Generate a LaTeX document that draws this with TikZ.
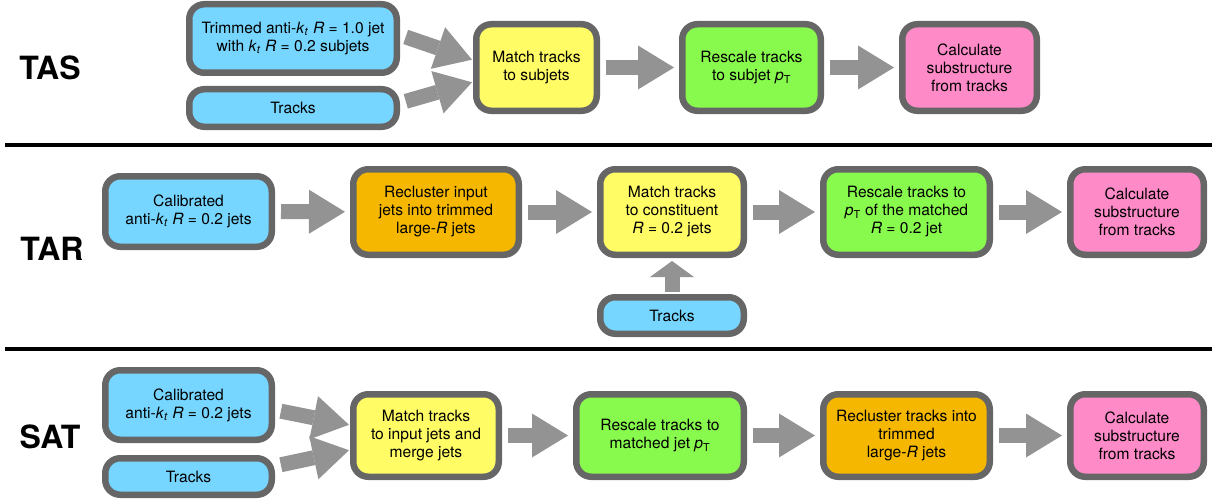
\documentclass[tikz,border=0pt]{standalone}
\usepackage{fontspec}
\setmainfont{TeX Gyre Heros}
\usetikzlibrary{arrows.meta}

\definecolor{skyblue}{HTML}{76D6FF}
\definecolor{lemon}{HTML}{FFFC66}
\definecolor{lime}{HTML}{88FA4E}
\definecolor{candy}{HTML}{FF8AC8}
\definecolor{amber}{HTML}{F5B700}
\definecolor{edgegray}{HTML}{666666}
\definecolor{arrowgray}{HTML}{939393}

\newcommand{\kt}{\textit{k}\textsubscript{\textit{t}}}
\newcommand{\Rjet}{\textit{R}}
\newcommand{\pT}{\textit{p}\textsubscript{T}}

\tikzset{
  stage/.style={draw=edgegray, line width=6.5pt, rounded corners=15pt, align=center, inner sep=0pt,
    font=\fontsize{15.6}{18}\selectfont},
  boxsize/.style 2 args={minimum width=#1pt, minimum height=#2pt},
  rowlabel/.style={font=\fontsize{32}{36}\selectfont\bfseries},
  flow/.style={draw=arrowgray, line width=15pt, -{Triangle[length=36pt,width=44pt,line width=0pt]},
    shorten <=6pt, shorten >=5pt},
  flowup/.style={draw=arrowgray, line width=15pt, -{Triangle[length=16pt,width=44pt,line width=0pt]},
    shorten <=2pt, shorten >=3pt},
  rule/.style={line width=3.5pt},
}

\begin{document}
\begin{tikzpicture}[x=1pt,y=-1pt]
\useasboundingbox (0,0) rectangle (1216,503);

% TAS
\node[rowlabel] (tas) at (50,68) {TAS};
\node[stage, fill=skyblue, boxsize={207.5}{68.5}] (tasjet) at (293,38.5) {Trimmed anti-\kt{} \Rjet{} = 1.0 jet\\with \kt{} \Rjet{} = 0.2 subjets};
\node[stage, fill=skyblue, boxsize={207.5}{37.5}] (tastrk) at (293,108) {Tracks};
\node[stage, fill=lemon, boxsize={120.5}{86.5}] (tasmatch) at (536.5,67.5) {Match tracks\\to subjets};
\node[stage, fill=lime, boxsize={138.5}{86.5}] (tasrescale) at (751.5,67.5) {Rescale tracks\\to subjet \pT};
\node[stage, fill=candy, boxsize={134.5}{86.5}] (tascalc) at (969.5,67.5) {Calculate\\substructure\\from tracks};

\draw[flow, shorten >=1pt] ([yshift=3.5pt]tasjet.east) -- ([yshift=7.5pt]tasmatch.west);
\draw[flow, shorten >=1pt] ([yshift=5pt]tastrk.east) -- ([yshift=-14.5pt]tasmatch.west);
\draw[flow] (tasmatch) -- (tasrescale);
\draw[flow] (tasrescale) -- (tascalc);

\draw[rule] (5,145) -- (1212,145);

% TAR
\node[rowlabel] (tar) at (52,249) {TAR};
\node[stage, fill=skyblue, boxsize={166.5}{70.5}] (tarjet) at (188.5,211.5) {Calibrated\\anti-\kt{} \Rjet{} = 0.2 jets};
\node[stage, fill=amber, boxsize={165.5}{85.5}] (tarreclus) at (436,212) {Recluster input\\jets into trimmed\\large-\Rjet{} jets};
\node[stage, fill=lemon, boxsize={143.5}{85.5}] (tarmatch) at (672,212) {Match tracks\\to constituent\\\Rjet{} = 0.2 jets};
\node[stage, fill=skyblue, boxsize={143.5}{36.5}] (tartrk) at (672,315.5) {Tracks};
\node[stage, fill=lime, boxsize={166.5}{85.5}] (tarrescale) at (906.5,212) {Rescale tracks to\\\pT{} of the matched\\\Rjet{} = 0.2 jet};
\node[stage, fill=candy, boxsize={133.5}{85.5}] (tarcalc) at (1137,212) {Calculate\\substructure\\from tracks};

\draw[flow] (tarjet) -- (tarreclus);
\draw[flow] (tarreclus) -- (tarmatch);
\draw[flowup] (tartrk) -- (tarmatch);
\draw[flow] (tarmatch) -- (tarrescale);
\draw[flow] (tarrescale) -- (tarcalc);

\draw[rule] (5,349) -- (1212,349);

% SAT
\node[rowlabel] (sat) at (50,437) {SAT};
\node[stage, fill=skyblue, boxsize={166.5}{69.5}] (satjet) at (188.5,405) {Calibrated\\anti-\kt{} \Rjet{} = 0.2 jets};
\node[stage, fill=skyblue, boxsize={166.5}{36.5}] (sattrk) at (188.5,476.5) {Tracks};
\node[stage, fill=lemon, boxsize={145.5}{82.5}] (satmatch) at (426,435.5) {Match tracks\\to input jets and\\merge jets};
\node[stage, fill=lime, boxsize={167.5}{82.5}] (satrescale) at (660,435.5) {Rescale tracks to\\matched jet \pT};
\node[stage, fill=amber, boxsize={166.5}{82.5}] (satreclus) at (906.5,435.5) {Recluster tracks into\\trimmed\\large-\Rjet{} jets};
\node[stage, fill=candy, boxsize={133.5}{82.5}] (satcalc) at (1137,435.5) {Calculate\\substructure\\from tracks};

\draw[flow, shorten >=1pt] ([yshift=-5pt]satjet.east) -- ([yshift=10.5pt]satmatch.west);
\draw[flow, shorten >=1pt] ([yshift=10.5pt]sattrk.east) -- ([yshift=-14.5pt]satmatch.west);
\draw[flow] (satmatch) -- (satrescale);
\draw[flow] (satrescale) -- (satreclus);
\draw[flow] (satreclus) -- (satcalc);
\end{tikzpicture}
\end{document}
